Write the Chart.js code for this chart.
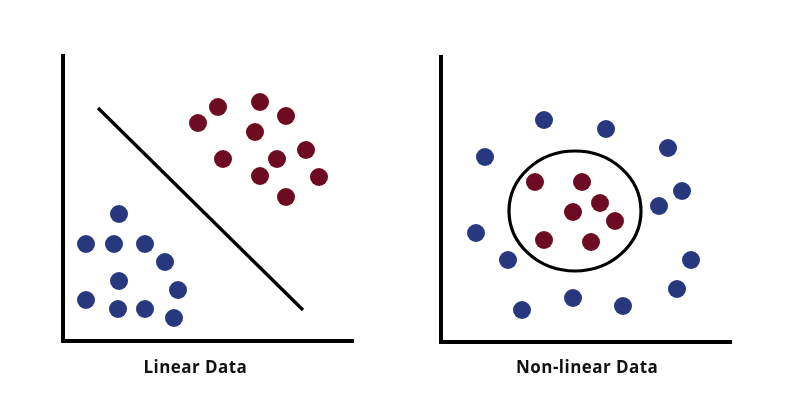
<!DOCTYPE html>
<html>
<head>
<meta charset="utf-8">
<script src="https://cdn.jsdelivr.net/npm/chart.js@4/dist/chart.umd.min.js"></script>
<style>
  html, body { margin: 0; padding: 0; background: #ffffff; }
  #wrap { position: relative; width: 800px; height: 400px; background: #ffffff; overflow: hidden; }
  .box { position: absolute; top: 0; width: 400px; height: 400px; }
  .label {
    position: absolute; top: 357px; width: 300px; height: 20px; line-height: 20px;
    text-align: center; font-family: 'Open Sans', sans-serif; font-weight: bold;
    font-size: 17px; letter-spacing: 0.45px; color: #111111; white-space: nowrap;
  }
</style>
</head>
<body>
<div id="wrap">
  <div class="box" style="left:0"><canvas id="c1" width="400" height="400"></canvas></div>
  <div class="box" style="left:400px"><canvas id="c2" width="400" height="400"></canvas></div>
  <div class="label" id="t1" style="left:45.4px"></div>
  <div class="label" id="t2" style="left:437.2px"></div>
</div>
<script>
// ---- Data ----
const titles = ["Linear Data", "Non-linear Data"];

// Linear data panel
const linearRedX  = [135, 155, 197, 223, 192, 243, 160, 214, 197, 256, 223];
const linearRedY  = [218, 234, 239, 225, 209, 191, 182, 182, 165, 164, 144];
const linearBlueX = [56, 23, 51, 82, 102, 56, 115, 23, 55, 82, 111];
const linearBlueY = [127, 97, 97, 97, 79, 60, 51, 41, 32, 32, 23];
const separatorX  = [35, 240];
const separatorY  = [233, 31];

// Non-linear data panel
const nonlinBlueX = [103, 165, 44, 227, 241, 218, 35, 67, 250, 236, 132, 182, 81];
const nonlinBlueY = [222, 213, 185, 194, 151, 136, 109, 82, 82, 53, 44, 36, 32];
const nonlinRedX  = [94, 141, 159, 132, 174, 103, 150];
const nonlinRedY  = [160, 160, 139, 130, 121, 102, 100];
const boundaryCenter = [134, 131];
const boundaryRadii  = [66, 60];

const axisMaxX = 290;
const axisMaxY = 285;

const BLUE = '#27387f';
const RED  = '#6d0b22';

document.getElementById('t1').textContent = titles[0];
document.getElementById('t2').textContent = titles[1];

function pts(xs, ys) { return xs.map((x, i) => ({ x: x, y: ys[i] })); }

const ellipsePlugin = {
  id: 'ellipseBoundary',
  afterDatasetsDraw(chart, args, opts) {
    if (!opts || !opts.center) return;
    const xs = chart.scales.x, ys = chart.scales.y;
    const cx = xs.getPixelForValue(opts.center[0]);
    const cy = ys.getPixelForValue(opts.center[1]);
    const rx = Math.abs(xs.getPixelForValue(opts.center[0] + opts.radii[0]) - cx);
    const ry = Math.abs(ys.getPixelForValue(opts.center[1] + opts.radii[1]) - cy);
    const ctx = chart.ctx;
    ctx.save();
    ctx.beginPath();
    ctx.ellipse(cx, cy, rx, ry, 0, 0, Math.PI * 2);
    ctx.lineWidth = 3.2;
    ctx.strokeStyle = '#000000';
    ctx.stroke();
    ctx.restore();
  }
};

function makeOptions(padLeft, padRight, padTop, padBottom, ellipse) {
  const scale = (max) => ({
    type: 'linear',
    min: 0,
    max: max,
    ticks: { display: false },
    grid: { display: false, drawTicks: false },
    border: { display: true, color: '#000000', width: 4 },
    title: { display: false }
  });
  return {
    responsive: false,
    animation: false,
    events: [],
    layout: { padding: { left: padLeft, right: padRight, top: padTop, bottom: padBottom } },
    scales: { x: scale(axisMaxX), y: scale(axisMaxY) },
    plugins: {
      legend: { display: false },
      tooltip: { enabled: false },
      title: { display: false },
      ellipseBoundary: ellipse
    }
  };
}

const pointStyle = (color) => ({
  type: 'scatter',
  backgroundColor: color,
  borderColor: color,
  borderWidth: 0,
  pointRadius: 9,
  pointHoverRadius: 9
});

new Chart(document.getElementById('c1'), {
  type: 'scatter',
  data: {
    datasets: [
      { type: 'scatter', label: 'separator', data: pts(separatorX, separatorY), showLine: true,
        borderColor: '#000000', borderWidth: 3.3, pointRadius: 0 },
      Object.assign(pointStyle(RED), { label: 'class A', data: pts(linearRedX, linearRedY) }),
      Object.assign(pointStyle(BLUE), { label: 'class B', data: pts(linearBlueX, linearBlueY) })
    ]
  },
  options: makeOptions(63, 47, 56, 59, {})
});

new Chart(document.getElementById('c2'), {
  type: 'scatter',
  data: {
    datasets: [
      Object.assign(pointStyle(BLUE), { label: 'outer', data: pts(nonlinBlueX, nonlinBlueY) }),
      Object.assign(pointStyle(RED), { label: 'inner', data: pts(nonlinRedX, nonlinRedY) })
    ]
  },
  plugins: [ellipsePlugin],
  options: makeOptions(41, 69, 57, 58, { center: boundaryCenter, radii: boundaryRadii })
});
</script>
</body>
</html>
